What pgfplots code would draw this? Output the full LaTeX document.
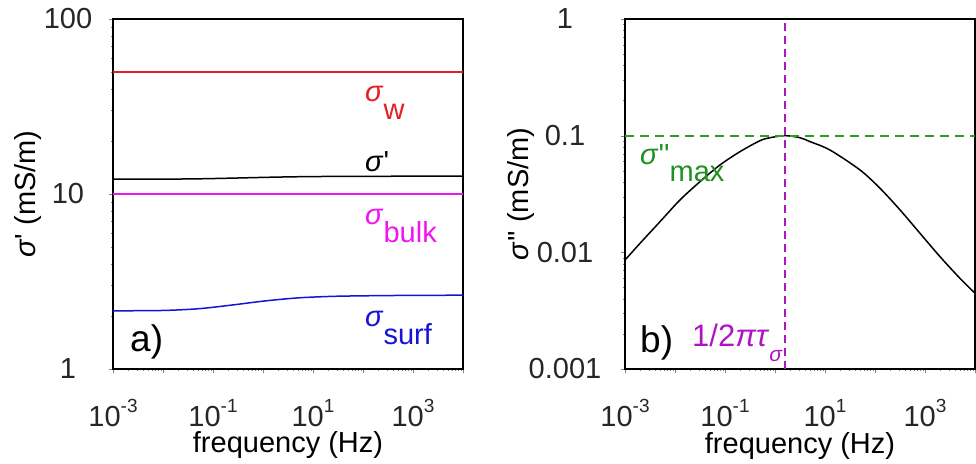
\documentclass[border=0pt]{standalone}
\usepackage{fontspec}
\setmainfont{Liberation Sans}
\usepackage{pgfplots}
\pgfplotsset{compat=1.18}
\definecolor{sigwred}{RGB}{228,30,36}
\definecolor{cmag}{RGB}{240,20,240}
\definecolor{cblue}{RGB}{20,20,215}
\definecolor{maxgreen}{RGB}{40,160,40}
\definecolor{cgtext}{RGB}{30,145,30}
\definecolor{cpurp}{RGB}{175,20,195}
\newcommand\sups[1]{\raisebox{14bp}{\fontsize{19bp}{22bp}\selectfont #1}}
\begin{document}
\fontsize{29bp}{34bp}\selectfont
\begin{tikzpicture}[x=1bp,y=1bp]
\useasboundingbox (0,0) rectangle (976,464);
% ---------- panel a ----------
\begin{loglogaxis}[
    scale only axis, width=350bp, height=350bp,
    anchor=south west, at={(113bp,95bp)},
    xmin=1e-3, xmax=1e4,
    axis line style={line width=1.4bp},
    tick align=outside,
    major tick length=4bp, minor tick length=2bp,
    xtick pos=left, ytick pos=left,
    xtick={1e-3,1e-2,1e-1,1,10,100,1000,10000},
    xticklabels={10\sups{-3},,10\sups{-1},,10\sups{1},,10\sups{3},},
    xticklabel style={anchor=base, yshift=-54bp, inner sep=1bp, text=black!85},
    xlabel={frequency (Hz)},
    xlabel style={at={(axis description cs:0.5,-0.24)}, anchor=base, inner sep=1bp, text=black},
    clip=false,
  ymin=1, ymax=100,
  ytick={1,10,100}, yticklabels={1,10,100},
  yticklabel style={anchor=center, xshift=-41bp, text=black!85},
  ylabel={\textit{σ}\textquotesingle{} (mS/m)},
  ylabel style={at={(axis description cs:-0.243,0.5)}, anchor=center},
]
\addplot[color=cmag, line width=1.8bp] coordinates {(1e-3,10) (1e4,10)};
\addplot[color=sigwred, line width=1.8bp] coordinates {(1e-3,50) (1e-1,50) (10,50) (1e4,50)};
\addplot[color=black, line width=1.5bp, smooth] coordinates {
 (1e-3,12.15) (1e-2,12.16) (0.0513,12.21) (0.24,12.32) (1.12,12.45)
 (5.13,12.55) (24,12.60) (112,12.62) (1000,12.635) (1e4,12.64)};
\addplot[color=cblue, line width=1.5bp, smooth] coordinates {
 (1e-3,2.15) (1e-2,2.16) (0.0513,2.21) (0.24,2.32) (1.12,2.45)
 (5.13,2.55) (24,2.60) (112,2.62) (1000,2.635) (1e4,2.64)};
\end{loglogaxis}
% ---------- panel b ----------
\begin{loglogaxis}[
    scale only axis, width=350bp, height=350bp,
    anchor=south west, at={(625bp,95bp)},
    xmin=1e-3, xmax=1e4,
    axis line style={line width=1.4bp},
    tick align=outside,
    major tick length=4bp, minor tick length=2bp,
    xtick pos=left, ytick pos=left,
    xtick={1e-3,1e-2,1e-1,1,10,100,1000,10000},
    xticklabels={10\sups{-3},,10\sups{-1},,10\sups{1},,10\sups{3},},
    xticklabel style={anchor=base, yshift=-54bp, inner sep=1bp, text=black!85},
    xlabel={frequency (Hz)},
    xlabel style={at={(axis description cs:0.5,-0.24)}, anchor=base, inner sep=1bp, text=black},
    clip=false,
  ymin=0.001, ymax=1,
  ytick={0.001,0.01,0.1,1}, yticklabels={0.001,0.01,0.1,1},
  yticklabel style={anchor=center, xshift=-56bp, text=black!85},
  ylabel={\textit{σ}\textquotesingle\textquotesingle{} (mS/m)},
  ylabel style={at={(axis description cs:-0.297,0.5)}, anchor=center},
]
\addplot[color=cpurp, line width=2.2bp, dash pattern=on 8bp off 5bp] coordinates {(1.585,0.001) (1.585,1)};
\addplot[color=black, line width=1.5bp, smooth] coordinates {
 (0.001,0.00859) (0.001995,0.01194) (0.005012,0.01832) (0.01259,0.02812)
 (0.03162,0.04036) (0.07943,0.05610) (0.1995,0.07295) (0.5012,0.09057)
 (0.7943,0.0960) (1.585,0.1) (3.162,0.0960) (5.012,0.0889) (12.59,0.0753) (50.12,0.0508)
 (125.9,0.0354) (316.2,0.0231) (794.3,0.01456) (1995,0.00918) (5012,0.00598) (10000,0.00446)};
\addplot[draw={rgb,255:red,40;green,160;blue,40}, line width=2bp, dash pattern=on 9bp off 6bp] coordinates {(1e-3,0.1) (1e-2,0.1) (1e-1,0.1) (10,0.1) (1000,0.1) (1e4,0.1)};
\end{loglogaxis}
% ---------- annotations ----------
\node[anchor=base west, inner sep=0, text=sigwred] at (365bp,362bp) {\textit{σ}\raisebox{-18bp}{w}};
\node[anchor=base west, inner sep=0, text=black] at (365bp,292bp) {\textit{σ}\textquotesingle};
\node[anchor=base west, inner sep=0, text=cmag] at (365bp,239bp) {\textit{σ}\raisebox{-18bp}{bulk}};
\node[anchor=base west, inner sep=0, text=cblue] at (365bp,137bp) {\textit{σ}\raisebox{-18bp}{surf}};
\node[anchor=base west, inner sep=0, text=black] at (130bp,112bp) {\fontsize{37bp}{42bp}\selectfont a)};
\node[anchor=base west, inner sep=0, text=black] at (640bp,111bp) {\fontsize{37bp}{42bp}\selectfont b)};
\node[anchor=base west, inner sep=0, text=cgtext] at (640bp,299bp) {\textit{σ}\textquotesingle\textquotesingle\raisebox{-17bp}{max}};
\node[anchor=base west, inner sep=0, text=cpurp] at (692bp,117bp) {\fontsize{31bp}{36bp}\selectfont 1/2\textit{πτ}\raisebox{-15bp}{\fontsize{21bp}{25bp}\selectfont\textit{σ}}};
\end{tikzpicture}
\end{document}
